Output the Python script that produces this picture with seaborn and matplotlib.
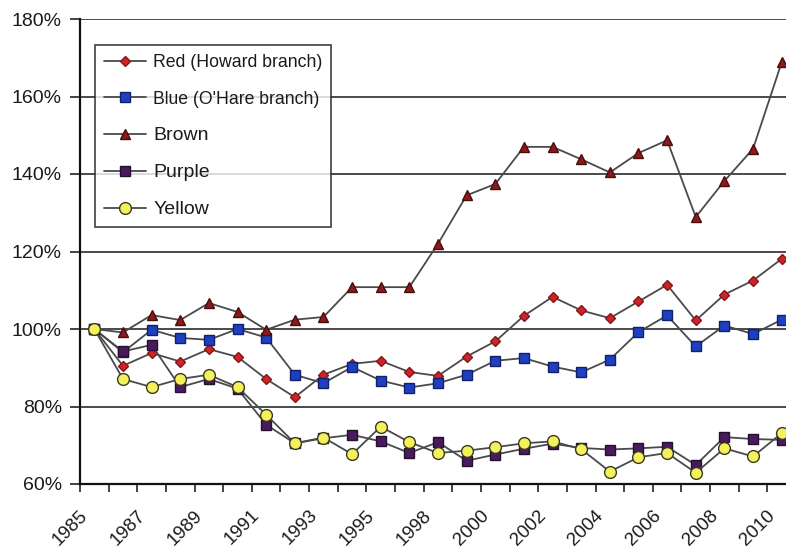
import numpy as np
import pandas as pd
import matplotlib
matplotlib.use("Agg")
import matplotlib.pyplot as plt
import matplotlib.transforms as mtransforms
import seaborn as sns

years = [1985, 1986, 1987, 1988, 1989, 1990, 1991, 1992, 1993, 1994, 1995, 1996,
         1998, 1999, 2000, 2001, 2002, 2003, 2004, 2005, 2006, 2007, 2008, 2009, 2010]
tick_years = [1985, 1987, 1989, 1991, 1993, 1995, 1998, 2000, 2002, 2004, 2006, 2008, 2010]

red = [100, 90.5, 93.8, 91.6, 94.8, 92.8, 87.1, 82.4, 88.2, 91.0, 91.8, 88.9,
       87.9, 92.9, 96.8, 103.4, 108.3, 104.8, 102.8, 107.1, 111.4, 102.2, 108.9, 112.5, 118.1]
blue = [100, 94.0, 99.8, 97.7, 97.2, 100.0, 97.8, 88.2, 86.0, 90.2, 86.7, 84.9,
        86.0, 88.2, 91.8, 92.5, 90.3, 88.8, 92.1, 99.2, 103.5, 95.5, 100.9, 98.7, 102.4]
brown = [100, 99.1, 103.6, 102.3, 106.7, 104.4, 99.8, 102.4, 103.1, 110.8, 110.8, 110.8,
         122.0, 134.5, 137.4, 147.0, 147.0, 143.8, 140.4, 145.4, 148.7, 128.9, 138.2, 146.5, 168.8]
purple = [100, 94.2, 95.9, 85.0, 87.1, 84.6, 75.3, 70.5, 71.8, 72.7, 71.0, 68.0,
          70.8, 66.0, 67.6, 69.1, 70.4, 69.3, 68.9, 69.2, 69.6, 64.9, 72.1, 71.6, 71.4]
yellow = [100, 87.1, 85.0, 87.1, 88.2, 85.0, 77.9, 70.5, 72.0, 67.7, 74.8, 70.8,
          68.0, 68.6, 69.5, 70.5, 71.0, 69.0, 63.2, 66.9, 68.0, 62.9, 69.2, 67.1, 73.1]

series_names = ["Red (Howard branch)", "Blue (O'Hare branch)", "Brown", "Purple", "Yellow"]
series_vals = [red, blue, brown, purple, yellow]

styles = [
    dict(marker="D", ms=5.5, mfc="#c8262a", mec="#8a1518"),
    dict(marker="s", ms=6.5, mfc="#1d3fc0", mec="#12206a"),
    dict(marker="^", ms=7.5, mfc="#8b1a1a", mec="#4a0c0c"),
    dict(marker="s", ms=6.5, mfc="#4a1a5e", mec="#241030"),
    dict(marker="o", ms=8.5, mfc="#f4f25a", mec="#3a3a20"),
]

sns.set_style("white")
plt.rcParams["font.family"] = ["Liberation Sans", "DejaVu Sans"]

fig = plt.figure(figsize=(7.86, 5.48), dpi=100)
W, H = 786, 548
left_px, right_px, top_px, bot_px = 80, 796, 19, 484
ax = fig.add_axes([left_px / W, 1 - bot_px / H, (right_px - left_px) / W, (bot_px - top_px) / H])

x = np.arange(len(years))
for name, vals, st in zip(series_names, series_vals, styles):
    sns.lineplot(x=x, y=vals, ax=ax, color="#4a4a4a", linewidth=1.3,
                 marker=st["marker"], markersize=st["ms"],
                 markerfacecolor=st["mfc"], markeredgecolor=st["mec"],
                 markeredgewidth=1.0, label=name, zorder=3)

ax.set_ylim(60, 180)
ax.set_xlim(-0.5, 24.5)
ax.set_yticks(np.arange(60, 181, 20))
ax.set_yticklabels([f"{v}%" for v in range(60, 181, 20)])
ax.yaxis.grid(True, color="#3c3c3c", linewidth=1.3)
ax.set_axisbelow(True)

# x ticks: marks at category boundaries, labels at every other category center
ax.set_xticks(np.arange(-0.5, 25, 1))
ax.set_xticklabels([])
label_pos = [years.index(y) for y in tick_years]
ax.set_xticks(label_pos, minor=True)
ax.set_xticklabels([str(y) for y in tick_years], minor=True, rotation=45,
                   ha="right", va="top", rotation_mode="anchor")
ax.tick_params(axis="x", which="major", length=6, width=1.2, color="#222222", direction="out", bottom=True)
ax.tick_params(axis="x", which="minor", length=0, pad=10, labelsize=13.5, labelcolor="#1a1a1a")
ax.tick_params(axis="y", length=7, width=1.2, color="#222222", direction="out", left=True,
               pad=6, labelsize=14, labelcolor="#1a1a1a")

offset = mtransforms.ScaledTranslation(-15 / 100, -9 / 100, fig.dpi_scale_trans)
for lbl in ax.get_xticklabels(minor=True):
    lbl.set_transform(lbl.get_transform() + offset)

for s in ["top", "right"]:
    ax.spines[s].set_visible(False)
ax.spines["left"].set_color("#111111")
ax.spines["left"].set_linewidth(1.6)
ax.spines["bottom"].set_color("#111111")
ax.spines["bottom"].set_linewidth(1.6)
ax.set_xlabel("")
ax.set_ylabel("")

leg = ax.legend(loc="upper left", bbox_to_anchor=(0.021, 0.944), borderaxespad=0,
                frameon=True, fancybox=False, edgecolor="#222222", fontsize=12.7,
                handlelength=2.4, handletextpad=0.4, labelspacing=1.12,
                borderpad=0.5)
leg.get_frame().set_linewidth(1.3)
for i, t in enumerate(leg.get_texts()):
    t.set_color("#1a1a1a")
    if i >= 2:
        t.set_fontsize(14)

fig.savefig("out.png", dpi=100, facecolor="white")
